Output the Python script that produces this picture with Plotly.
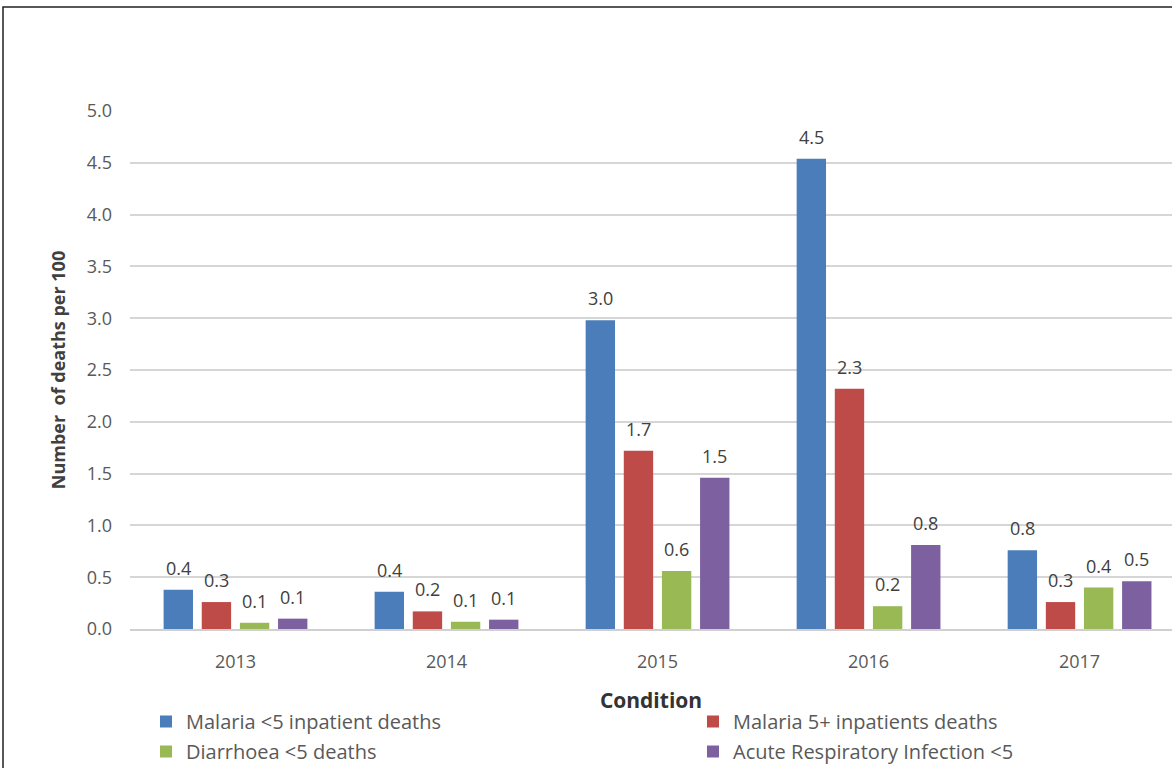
import plotly.graph_objects as go

# Inpatient deaths per 100, by year and condition
years = ["2013", "2014", "2015", "2016", "2017"]
malaria_u5 = [0.38, 0.36, 2.98, 4.54, 0.76]
malaria_5plus = [0.26, 0.17, 1.72, 2.32, 0.26]
diarrhoea_u5 = [0.06, 0.07, 0.56, 0.22, 0.40]
ari_u5 = [0.10, 0.09, 1.46, 0.81, 0.46]

series_names = [
    "Malaria <5 inpatient deaths",
    "Malaria 5+ inpatients deaths",
    "Diarrhoea <5 deaths",
    "Acute Respiratory Infection <5",
]
series_values = [malaria_u5, malaria_5plus, diarrhoea_u5, ari_u5]
series_colors = ["#4a7dba", "#be4b48", "#98b954", "#7d60a0"]
legend_ids = ["legend", "legend2", "legend3", "legend4"]

FONT = "Open Sans"
TEXT_GREY = "#595959"

W, H = 1172, 768
L, R, T, B = 130, 0, 111, 139
plot_w = W - L - R
plot_h = H - T - B

X_RANGE = [-0.5, 4.438]
BARGAP = 0.277
N_SERIES = len(series_values)


def px_x(px):
    return (px - L) / plot_w


def px_y(py):
    return 1 - (py - T) / plot_h


fig = go.Figure()
for name, vals, color, lg in zip(series_names, series_values, series_colors, legend_ids):
    fig.add_trace(go.Bar(
        x=years, y=vals, name=name, legend=lg,
        marker=dict(color=color, line=dict(width=0)),
    ))

# value labels above each bar, shifted sideways into the bar's slot in its group
category_px = plot_w / (X_RANGE[1] - X_RANGE[0])
slot_px = category_px * (1 - BARGAP) / N_SERIES
for i, vals in enumerate(series_values):
    shift = (i - (N_SERIES - 1) / 2) * slot_px
    for j, v in enumerate(vals):
        fig.add_annotation(
            x=j, y=v, xref="x", yref="y",
            text=f"{v:.1f}", showarrow=False,
            xanchor="center", yanchor="bottom",
            xshift=shift, yshift=8,
            font=dict(family=FONT, size=18, color="#404040"),
        )

# legend entries laid out as a 2x2 block under the axis title
legend_pos = [(146, 702), (693, 702), (146, 732), (693, 732)]
legend_layout = {}
for lg, (lx, ly) in zip(legend_ids, legend_pos):
    legend_layout[lg] = dict(
        x=px_x(lx), y=px_y(ly), xanchor="left", yanchor="top",
        font=dict(family=FONT, size=20, color=TEXT_GREY),
        bgcolor="rgba(0,0,0,0)", itemwidth=30, tracegroupgap=0,
    )

fig.update_layout(
    width=W, height=H,
    margin=dict(l=L, r=R, t=T, b=B, autoexpand=False),
    paper_bgcolor="white", plot_bgcolor="white",
    barmode="group", bargap=BARGAP, bargroupgap=0.23,
    font=dict(family=FONT, color=TEXT_GREY),
    showlegend=True,
    **legend_layout,
)

fig.update_xaxes(
    type="category", range=X_RANGE,
    showgrid=False, showline=True, linecolor="#d0d0d0", linewidth=2,
    ticks="", tickfont=dict(family=FONT, size=18, color=TEXT_GREY),
    ticklabelstandoff=15,
    title=dict(text="<b>Condition</b>", font=dict(family=FONT, size=21, color="#333333"), standoff=22),
)
fig.update_yaxes(
    range=[0, 5], dtick=0.5, tickformat=".1f",
    showgrid=True, gridcolor="#d6d6d6", gridwidth=2,
    zeroline=False, showline=False,
    ticks="", tickfont=dict(family=FONT, size=18, color=TEXT_GREY),
    ticklabelstandoff=17,
    title=dict(text="<b>Number  of deaths per 100</b>", font=dict(family=FONT, size=18, color="#404040"), standoff=16),
)

# outer frame of the chart area, running off the right and bottom edges
x0, y0 = px_x(3), px_y(7)
fig.add_shape(type="path", xref="paper", yref="paper",
              path=f"M {x0} {px_y(800)} L {x0} {y0} L {px_x(1200)} {y0}",
              line=dict(color="#222222", width=1.5), layer="above")

fig.write_html("out.html")
